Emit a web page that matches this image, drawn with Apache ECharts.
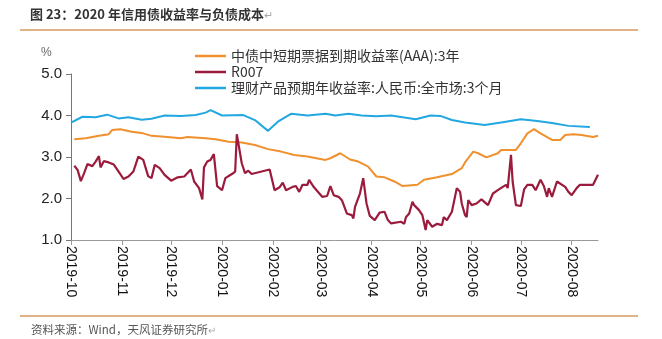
<!DOCTYPE html>
<html>
<head>
<meta charset="utf-8">
<script src="https://cdn.jsdelivr.net/npm/echarts@6/dist/echarts.min.js"></script>
<style>
  html, body { margin: 0; padding: 0; background: #fff; }
  #chart { width: 662px; height: 339px; }
</style>
</head>
<body>
<div id="chart"></div>
<script>
// 中债中短期票据到期收益率(AAA):3年
const aaaDates = ['2019-10-03','2019-10-10','2019-10-18','2019-10-24','2019-10-26','2019-10-31','2019-11-07','2019-11-14','2019-11-19','2019-11-27',
  '2019-12-07','2019-12-11','2019-12-22','2019-12-28','2020-01-05','2020-01-13','2020-01-21','2020-01-29','2020-02-06','2020-02-14',
  '2020-02-22','2020-03-04','2020-03-07','2020-03-13','2020-03-19','2020-03-24','2020-03-30','2020-04-04','2020-04-09','2020-04-15',
  '2020-04-20','2020-04-29','2020-05-03','2020-05-11','2020-05-20','2020-05-26','2020-05-28','2020-06-02','2020-06-05','2020-06-10',
  '2020-06-17','2020-06-19','2020-06-28','2020-07-01','2020-07-05','2020-07-09','2020-07-13','2020-07-20','2020-07-25','2020-07-28',
  '2020-08-02','2020-08-07','2020-08-14','2020-08-17'];
const aaaValues = [3.43,3.45,3.51,3.55,3.65,3.67,3.61,3.57,3.51,3.49,
  3.45,3.48,3.45,3.43,3.37,3.35,3.29,3.19,3.13,3.05,
  3.01,2.93,2.97,3.09,2.94,2.89,2.77,2.53,2.51,2.41,
  2.30,2.33,2.45,2.51,2.59,2.73,2.87,3.13,3.09,2.99,
  3.09,3.17,3.17,3.33,3.57,3.67,3.57,3.41,3.41,3.53,
  3.55,3.53,3.48,3.51];

// R007
const r007Dates = ['2019-10-03','2019-10-05','2019-10-07','2019-10-09','2019-10-11','2019-10-12','2019-10-14','2019-10-16','2019-10-18','2019-10-19',
  '2019-10-21','2019-10-24','2019-10-27','2019-10-30','2019-11-02','2019-11-05','2019-11-08','2019-11-11','2019-11-14','2019-11-17',
  '2019-11-19','2019-11-21','2019-11-24','2019-11-27','2019-12-01','2019-12-05','2019-12-09','2019-12-13','2019-12-15','2019-12-18',
  '2019-12-20','2019-12-21','2019-12-23','2019-12-25','2019-12-27','2019-12-29','2020-01-01','2020-01-03','2020-01-07','2020-01-09',
  '2020-01-10','2020-01-13','2020-01-15','2020-01-17','2020-01-19','2020-01-30','2020-02-02','2020-02-05','2020-02-07','2020-02-09',
  '2020-02-13','2020-02-15','2020-02-17','2020-02-19','2020-02-22','2020-02-23','2020-02-26','2020-03-02','2020-03-05','2020-03-07',
  '2020-03-09','2020-03-12','2020-03-14','2020-03-17','2020-03-20','2020-03-21','2020-03-22','2020-03-25','2020-03-27','2020-03-29',
  '2020-03-31','2020-04-03','2020-04-06','2020-04-09','2020-04-11','2020-04-13','2020-04-19','2020-04-21','2020-04-22','2020-04-24',
  '2020-04-26','2020-04-27','2020-04-30','2020-05-02','2020-05-04','2020-05-05','2020-05-08','2020-05-11','2020-05-14','2020-05-15',
  '2020-05-17','2020-05-20','2020-05-23','2020-05-25','2020-05-26','2020-05-28','2020-05-29','2020-05-30','2020-06-01','2020-06-04',
  '2020-06-07','2020-06-11','2020-06-14','2020-06-17','2020-06-20','2020-06-22','2020-06-23','2020-06-25','2020-06-26','2020-06-28',
  '2020-07-01','2020-07-03','2020-07-05','2020-07-08','2020-07-10','2020-07-13','2020-07-15','2020-07-17','2020-07-18','2020-07-20',
  '2020-07-23','2020-07-28','2020-07-30','2020-08-01','2020-08-04','2020-08-06','2020-08-12','2020-08-14','2020-08-17'];
const r007Values = [2.79,2.69,2.42,2.61,2.83,2.85,2.78,2.89,3.02,2.75,
  2.90,2.87,2.82,2.65,2.47,2.53,2.65,3.01,2.93,2.54,
  2.49,2.81,2.73,2.57,2.43,2.51,2.53,2.70,2.41,2.25,
  1.98,2.75,2.89,2.93,3.07,2.30,2.20,2.49,2.59,2.65,
  3.55,2.85,2.61,2.67,2.59,2.70,2.20,2.27,2.38,2.20,
  2.28,2.30,2.16,2.33,2.33,2.45,2.27,2.04,2.06,2.30,
  2.08,2.04,1.96,1.64,1.60,1.52,1.80,2.12,2.49,1.88,
  1.58,1.48,1.66,1.68,1.48,1.40,1.44,1.39,1.55,1.64,
  1.92,1.84,1.72,1.60,1.24,1.48,1.32,1.39,1.36,1.55,
  1.48,1.68,2.25,2.16,1.88,1.60,1.55,1.96,1.84,1.88,
  1.98,1.84,2.12,2.20,2.28,2.33,2.25,3.05,2.41,1.84,
  1.82,2.22,2.33,2.33,2.20,2.45,2.30,2.04,2.25,2.04,
  2.41,2.28,2.16,2.08,2.25,2.33,2.33,2.33,2.57];

// 理财产品预期年收益率:人民币:全市场:3个月
const wmpDates = ['2019-10-01','2019-10-08','2019-10-16','2019-10-23','2019-10-30','2019-11-05','2019-11-13','2019-11-19','2019-11-27','2019-12-07',
  '2019-12-16','2019-12-22','2019-12-25','2020-01-01','2020-01-14','2020-01-21','2020-01-29','2020-02-04','2020-02-12','2020-02-22',
  '2020-03-04','2020-03-10','2020-03-18','2020-03-26','2020-04-04','2020-04-13','2020-04-28','2020-05-07','2020-05-13','2020-05-20',
  '2020-05-28','2020-06-09','2020-06-20','2020-07-01','2020-07-11','2020-07-20','2020-07-30','2020-08-12'];
const wmpValues = [3.83,3.97,3.96,4.02,3.93,3.96,3.90,3.92,4.00,3.99,
  4.01,4.07,4.13,4.00,4.01,3.89,3.63,3.85,4.04,4.00,
  4.04,4.00,4.04,4.00,3.98,4.00,3.91,4.00,3.99,3.89,
  3.83,3.77,3.84,3.91,3.87,3.82,3.75,3.72];

const seriesNames = ['中债中短期票据到期收益率(AAA):3年', 'R007', '理财产品预期年收益率:人民币:全市场:3个月'];
const seriesColors = ['#F0902E', '#9B1B3D', '#22A7E0'];

const zip = (d, v) => d.map((x, i) => [x, v[i]]);

const chart = echarts.init(document.getElementById('chart'));
const cjk = '"Noto Sans CJK SC", sans-serif';
const num = '"Liberation Sans", Arial, sans-serif';

const option = {
  animation: false,
  color: seriesColors,
  grid: { left: 71, right: 64, top: 74, bottom: 99 },
  legend: {
    orient: 'vertical',
    left: 190,
    top: 44,
    itemWidth: 31,
    itemHeight: 2.5,
    itemGap: 2,
    icon: 'rect',
    textStyle: { fontSize: 14, color: '#333', fontFamily: cjk },
    data: seriesNames
  },
  graphic: [
    {
      type: 'text', left: 30, top: 8,
      style: {
        text: '{t|图 23：2020 年信用债收益率与负债成本}{m|↵}',
        rich: {
          t: { fontSize: 13, fontWeight: 'bold', fill: '#333', fontFamily: cjk },
          m: { fontSize: 11, fill: '#aaa', fontFamily: cjk }
        }
      }
    },
    { type: 'line', shape: { x1: 20, y1: 30, x2: 638, y2: 30 }, style: { stroke: '#D69A5E', lineWidth: 1.5 } },
    { type: 'line', shape: { x1: 20, y1: 316, x2: 638, y2: 316 }, style: { stroke: '#D69A5E', lineWidth: 1.5 } },
    {
      type: 'text', left: 31, top: 324,
      style: {
        text: '{t|资料来源：Wind，天风证券研究所}{m|↵}',
        rich: {
          t: { fontSize: 11.5, fill: '#555', fontFamily: cjk },
          m: { fontSize: 10, fill: '#aaa', fontFamily: cjk }
        }
      }
    },
    {
      type: 'text', left: 41, top: 47,
      style: { text: '%', fontSize: 12, fill: '#666', fontFamily: num }
    }
  ],
  xAxis: {
    type: 'time',
    min: '2019-10-01',
    max: '2020-08-17',
    minInterval: 28 * 86400000,
    maxInterval: 31 * 86400000,
    splitLine: { show: false },
    axisLine: { lineStyle: { color: '#999' } },
    axisTick: { show: true, length: 5, lineStyle: { color: '#999' } },
    axisLabel: {
      rotate: -90,
      margin: 6,
      fontSize: 14,
      color: '#111',
      fontFamily: num,
      hideOverlap: false,
      formatter: (v) => echarts.time.format(v, '{yyyy}-{MM}', false)
    }
  },
  yAxis: {
    type: 'value',
    min: 1,
    max: 5,
    interval: 1,
    splitLine: { show: false },
    axisLine: { show: true, lineStyle: { color: '#777' } },
    axisTick: { show: true, length: 5, lineStyle: { color: '#777' } },
    axisLabel: {
      fontSize: 15,
      color: '#222',
      fontFamily: num,
      margin: 9,
      formatter: (v) => v.toFixed(1)
    }
  },
  series: [
    { name: seriesNames[0], type: 'line', showSymbol: false, lineStyle: { width: 2 }, data: zip(aaaDates, aaaValues) },
    { name: seriesNames[1], type: 'line', showSymbol: false, lineStyle: { width: 2.2 }, data: zip(r007Dates, r007Values) },
    { name: seriesNames[2], type: 'line', showSymbol: false, lineStyle: { width: 2 }, data: zip(wmpDates, wmpValues) }
  ]
};

chart.setOption(option);
</script>
</body>
</html>
